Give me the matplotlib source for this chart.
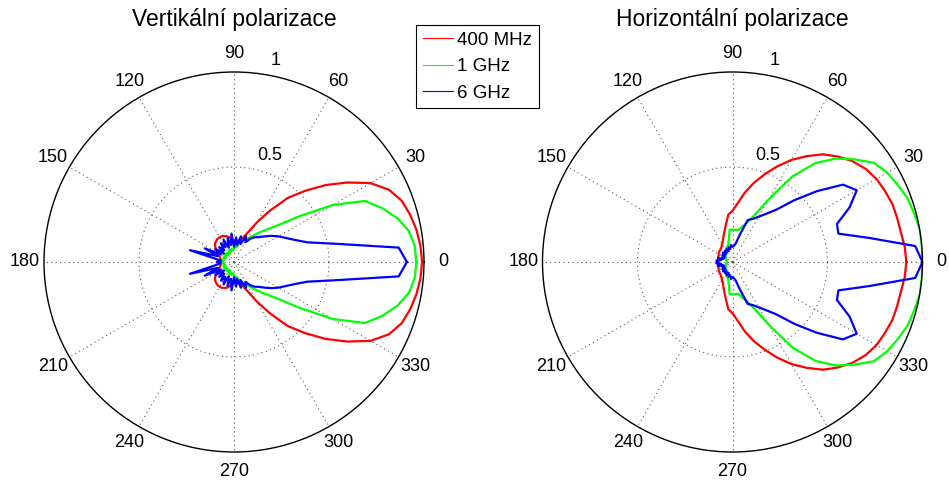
import numpy as np
import matplotlib
matplotlib.use("Agg")
import matplotlib.pyplot as plt
from matplotlib.lines import Line2D

plt.rcParams['font.family'] = ['Liberation Sans', 'DejaVu Sans']

# angles in degrees, 5 deg step
angles = list(range(0, 360, 5))

# Vertikalni polarizace
v_400mhz = [0.99, 0.985, 0.975, 0.96, 0.94, 0.90, 0.83, 0.73, 0.63, 0.53, 0.44, 0.33,
            0.24, 0.17, 0.135, 0.12, 0.115, 0.11, 0.11, 0.12, 0.13, 0.14, 0.145, 0.15,
            0.15, 0.15, 0.145, 0.14, 0.13, 0.115, 0.10, 0.085, 0.08, 0.075, 0.07, 0.07,
            0.07, 0.07, 0.07, 0.075, 0.08, 0.085, 0.10, 0.115, 0.13, 0.14, 0.145, 0.15,
            0.15, 0.15, 0.145, 0.14, 0.13, 0.12, 0.11, 0.11, 0.115, 0.12, 0.135, 0.17,
            0.24, 0.33, 0.44, 0.53, 0.63, 0.73, 0.83, 0.90, 0.94, 0.96, 0.975, 0.985]
v_1ghz = [0.96, 0.955, 0.935, 0.89, 0.83, 0.76, 0.60, 0.42, 0.30, 0.24, 0.20, 0.165,
          0.14, 0.13, 0.12, 0.10, 0.08, 0.08, 0.07, 0.06, 0.07, 0.06, 0.07, 0.05,
          0.06, 0.05, 0.06, 0.05, 0.07, 0.05, 0.06, 0.05, 0.06, 0.05, 0.055, 0.06,
          0.06, 0.06, 0.055, 0.05, 0.06, 0.05, 0.06, 0.05, 0.07, 0.05, 0.06, 0.05,
          0.06, 0.05, 0.07, 0.06, 0.07, 0.06, 0.07, 0.08, 0.08, 0.10, 0.12, 0.13,
          0.14, 0.165, 0.20, 0.24, 0.30, 0.42, 0.60, 0.76, 0.83, 0.89, 0.935, 0.955]
v_6ghz = [0.91, 0.87, 0.55, 0.40, 0.34, 0.30, 0.27, 0.24, 0.21, 0.185, 0.17, 0.15,
          0.12, 0.15, 0.10, 0.14, 0.09, 0.13, 0.08, 0.15, 0.09, 0.13, 0.08, 0.13,
          0.09, 0.12, 0.08, 0.11, 0.07, 0.12, 0.08, 0.17, 0.09, 0.24, 0.10, 0.07,
          0.09, 0.07, 0.10, 0.24, 0.09, 0.17, 0.08, 0.12, 0.07, 0.11, 0.08, 0.12,
          0.09, 0.13, 0.08, 0.13, 0.09, 0.15, 0.08, 0.13, 0.09, 0.14, 0.10, 0.15,
          0.12, 0.15, 0.17, 0.185, 0.21, 0.24, 0.27, 0.30, 0.34, 0.40, 0.55, 0.87]

# Horizontalni polarizace
h_400mhz = [0.915, 0.91, 0.90, 0.897, 0.895, 0.885, 0.875, 0.855, 0.825, 0.785, 0.74, 0.68,
            0.62, 0.555, 0.49, 0.43, 0.37, 0.31, 0.27, 0.25, 0.20, 0.165, 0.14, 0.12,
            0.11, 0.10, 0.095, 0.09, 0.09, 0.085, 0.085, 0.08, 0.08, 0.078, 0.075, 0.075,
            0.075, 0.075, 0.075, 0.078, 0.08, 0.08, 0.085, 0.085, 0.09, 0.09, 0.095, 0.10,
            0.11, 0.12, 0.14, 0.165, 0.20, 0.25, 0.27, 0.31, 0.37, 0.43, 0.49, 0.555,
            0.62, 0.68, 0.74, 0.785, 0.825, 0.855, 0.875, 0.885, 0.895, 0.897, 0.90, 0.91]
h_1ghz = [1.0, 1.0, 1.0, 0.99, 0.98, 0.96, 0.94, 0.91, 0.84, 0.77, 0.68, 0.55,
          0.38, 0.27, 0.22, 0.19, 0.17, 0.17, 0.17, 0.17, 0.115, 0.09, 0.085, 0.08,
          0.07, 0.065, 0.06, 0.05, 0.05, 0.045, 0.04, 0.04, 0.035, 0.035, 0.03, 0.03,
          0.03, 0.03, 0.03, 0.035, 0.035, 0.04, 0.04, 0.045, 0.05, 0.05, 0.06, 0.065,
          0.07, 0.08, 0.085, 0.09, 0.115, 0.17, 0.17, 0.17, 0.17, 0.19, 0.22, 0.27,
          0.38, 0.55, 0.68, 0.77, 0.84, 0.91, 0.94, 0.96, 0.98, 0.99, 1.0, 1.0]
h_6ghz = [1.0, 0.965, 0.73, 0.577, 0.585, 0.68, 0.755, 0.71, 0.58, 0.46, 0.36, 0.31,
          0.275, 0.25, 0.235, 0.15, 0.10, 0.085, 0.08, 0.09, 0.07, 0.08, 0.06, 0.075,
          0.06, 0.07, 0.055, 0.07, 0.05, 0.065, 0.05, 0.06, 0.05, 0.08, 0.06, 0.085,
          0.08, 0.085, 0.06, 0.08, 0.05, 0.06, 0.05, 0.065, 0.05, 0.07, 0.055, 0.07,
          0.06, 0.075, 0.06, 0.08, 0.07, 0.09, 0.08, 0.085, 0.10, 0.15, 0.235, 0.25,
          0.275, 0.31, 0.36, 0.46, 0.58, 0.71, 0.755, 0.68, 0.585, 0.577, 0.73, 0.965]

series_names = ['400 MHz', '1 GHz', '6 GHz']
colors = ['#ff0000', '#00ff00', '#0000ff']
titles = ['Vertikální polarizace', 'Horizontální polarizace']
theta_labels = list(range(0, 360, 30))
r_labels = ['0.5', '1']


def polar_panel(ax, data, title, cx):
    th = np.deg2rad(angles + [angles[0]])
    for r, c in zip(data, colors):
        ax.plot(th, r + [r[0]], color=c, lw=1.6)

    ax.set_rlim(0, 1)
    ax.set_thetagrids(theta_labels, labels=[''] * len(theta_labels))
    ax.set_rgrids([0.5], labels=[''])
    ax.grid(True, color='0.35', linestyle=(0, (1, 3)), lw=0.8)
    ax.spines['polar'].set_color('black')
    ax.spines['polar'].set_linewidth(1.0)

    # MATLAB style angle labels
    for a in theta_labels:
        ax.text(np.deg2rad(a), 1.1, str(a), ha='center', va='center', fontsize=13)
    ax.text(np.deg2rad(77.3), 0.55, r_labels[0], ha='left', va='baseline', fontsize=13)
    ax.text(np.deg2rad(79.4), 1.055, r_labels[1], ha='left', va='baseline', fontsize=13)

    fig.text(cx, 1 - 26 / 483, title, ha='center', va='baseline', fontsize=16.5)


fig = plt.figure(figsize=(9.49, 4.83), dpi=100)
ax1 = fig.add_axes([44 / 949, 31 / 483, 380 / 949, 380 / 483], projection='polar')
ax2 = fig.add_axes([542.5 / 949, 31 / 483, 380 / 949, 380 / 483], projection='polar')

polar_panel(ax1, [v_400mhz, v_1ghz, v_6ghz], titles[0], 234 / 949)
polar_panel(ax2, [h_400mhz, h_1ghz, h_6ghz], titles[1], 732.5 / 949)

handles = [Line2D([], [], color=c, lw=0.8) for c in colors]
leg = fig.legend(handles, series_names, loc='upper left',
                 bbox_to_anchor=(416 / 949, 1 - 25 / 483), borderaxespad=0,
                 fontsize=13.5, handlelength=1.6, handletextpad=0.25,
                 labelspacing=0.5, borderpad=0.35, fancybox=False, framealpha=1)
leg.get_frame().set_edgecolor('black')
leg.get_frame().set_linewidth(0.8)

fig.savefig('out.png', dpi=100)
